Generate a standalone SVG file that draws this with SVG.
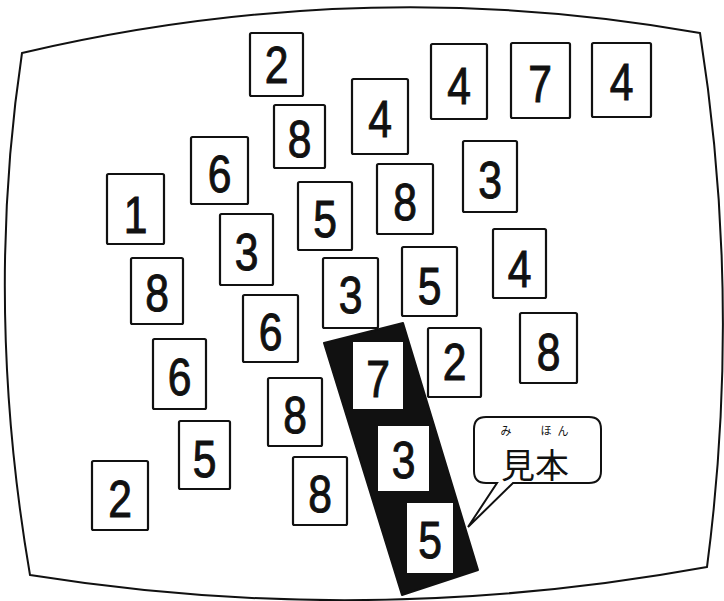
<svg xmlns="http://www.w3.org/2000/svg" width="724" height="601" viewBox="0 0 724 601">
<style>
.card{fill:#fff;stroke:#111;stroke-width:2.2}
.d{font-family:"Liberation Sans",Arial,sans-serif;font-size:52px;fill:#111;stroke:#111;stroke-width:1;text-anchor:middle}
.outline{fill:#fff;stroke:#111;stroke-width:2}
.band{fill:#111;stroke:#111;stroke-width:2;stroke-linejoin:round}
.jp{font-family:"Noto Sans CJK JP","Noto Sans",sans-serif;fill:#111;text-anchor:middle}
</style>
<rect width="724" height="601" fill="#fff"/>
<g id="screen">
<path class="outline" d="M22,53 Q363,-27 700,33 Q742,300 707,567 Q367,629 30,575 Q-16,306 22,53 Z"/>
</g>
<g id="cards">
<g id="card-1"><rect class="card" x="250" y="33" width="53" height="63" rx="1.5"/><text class="d" transform="translate(276.5,83) scale(0.82,1)">2</text></g>
<g id="card-2"><rect class="card" x="274" y="105" width="51" height="63" rx="1.5"/><text class="d" transform="translate(299.5,157) scale(0.82,1)">8</text></g>
<g id="card-3"><rect class="card" x="191" y="137" width="57" height="67" rx="1.5"/><text class="d" transform="translate(219.5,192) scale(0.82,1)">6</text></g>
<g id="card-4"><rect class="card" x="107" y="174" width="57" height="70" rx="1.5"/><text class="d" transform="translate(135.5,233) scale(0.82,1)">1</text></g>
<g id="card-5"><rect class="card" x="220" y="214" width="53" height="71" rx="1.5"/><text class="d" transform="translate(246.5,270) scale(0.82,1)">3</text></g>
<g id="card-6"><rect class="card" x="298" y="182" width="54" height="68" rx="1.5"/><text class="d" transform="translate(325,237) scale(0.82,1)">5</text></g>
<g id="card-7"><rect class="card" x="131" y="258" width="52" height="66" rx="1.5"/><text class="d" transform="translate(157,311) scale(0.82,1)">8</text></g>
<g id="card-8"><rect class="card" x="352" y="79" width="56" height="75" rx="1.5"/><text class="d" transform="translate(380,137) scale(0.82,1)">4</text></g>
<g id="card-9"><rect class="card" x="431" y="44" width="56" height="75" rx="1.5"/><text class="d" transform="translate(459,104) scale(0.82,1)">4</text></g>
<g id="card-10"><rect class="card" x="511" y="43" width="59" height="75" rx="1.5"/><text class="d" transform="translate(540,102) scale(0.82,1)">7</text></g>
<g id="card-11"><rect class="card" x="592" y="43" width="59" height="74" rx="1.5"/><text class="d" transform="translate(621.5,100) scale(0.82,1)">4</text></g>
<g id="card-12"><rect class="card" x="377" y="164" width="56" height="70" rx="1.5"/><text class="d" transform="translate(405,220) scale(0.82,1)">8</text></g>
<g id="card-13"><rect class="card" x="463" y="141" width="54" height="71" rx="1.5"/><text class="d" transform="translate(490,198) scale(0.82,1)">3</text></g>
<g id="card-14"><rect class="card" x="402" y="247" width="55" height="69" rx="1.5"/><text class="d" transform="translate(429.5,304) scale(0.82,1)">5</text></g>
<g id="card-15"><rect class="card" x="493" y="229" width="53" height="69" rx="1.5"/><text class="d" transform="translate(519.5,287) scale(0.82,1)">4</text></g>
<g id="card-16"><rect class="card" x="243" y="295" width="55" height="67" rx="1.5"/><text class="d" transform="translate(270.5,350) scale(0.82,1)">6</text></g>
<g id="card-17"><rect class="card" x="153" y="339" width="53" height="70" rx="1.5"/><text class="d" transform="translate(179.5,395) scale(0.82,1)">6</text></g>
<g id="card-18"><rect class="card" x="268" y="378" width="54" height="68" rx="1.5"/><text class="d" transform="translate(295,433) scale(0.82,1)">8</text></g>
<g id="card-19"><rect class="card" x="179" y="421" width="51" height="68" rx="1.5"/><text class="d" transform="translate(204.5,477) scale(0.82,1)">5</text></g>
<g id="card-20"><rect class="card" x="92" y="461" width="56" height="69" rx="1.5"/><text class="d" transform="translate(120,517) scale(0.82,1)">2</text></g>
<g id="card-21"><rect class="card" x="293" y="457" width="54" height="68" rx="1.5"/><text class="d" transform="translate(320,512) scale(0.82,1)">8</text></g>
<g id="card-22"><rect class="card" x="323" y="258" width="55" height="70" rx="1.5"/><text class="d" transform="translate(350.5,313) scale(0.82,1)">3</text></g>
<g id="card-23"><rect class="card" x="428" y="328" width="53" height="69" rx="1.5"/><text class="d" transform="translate(454.5,380) scale(0.82,1)">2</text></g>
<g id="card-24"><rect class="card" x="520" y="313" width="57" height="70" rx="1.5"/><text class="d" transform="translate(548.5,370) scale(0.82,1)">8</text></g>
</g>
<g id="sample">
<polygon class="band" points="324,343 403,323 478,570 402,595"/>
<g id="sample-card-7"><rect fill="#fff" x="353" y="342" width="50" height="67"/><text class="d" transform="translate(378,397) scale(0.82,1)">7</text></g>
<g id="sample-card-3"><rect fill="#fff" x="378" y="426" width="51" height="65"/><text class="d" transform="translate(403.5,478) scale(0.82,1)">3</text></g>
<g id="sample-card-5"><rect fill="#fff" x="407" y="503" width="46" height="70"/><text class="d" transform="translate(430,558) scale(0.82,1)">5</text></g>
</g>
<g id="callout">
<path class="outline" d="M497,483 H486 Q474,483 474,471 V429 Q474,417 486,417 H589 Q601,417 601,429 V471 Q601,483 589,483 H513 L468,527 Z"/>
<text class="jp" x="506" y="435" font-size="11">み</text>
<text class="jp" x="546" y="435" font-size="11">ほ</text>
<text class="jp" x="563" y="435" font-size="11">ん</text>
<text class="jp" x="535" y="478" font-size="34">見本</text>
</g>
</svg>
